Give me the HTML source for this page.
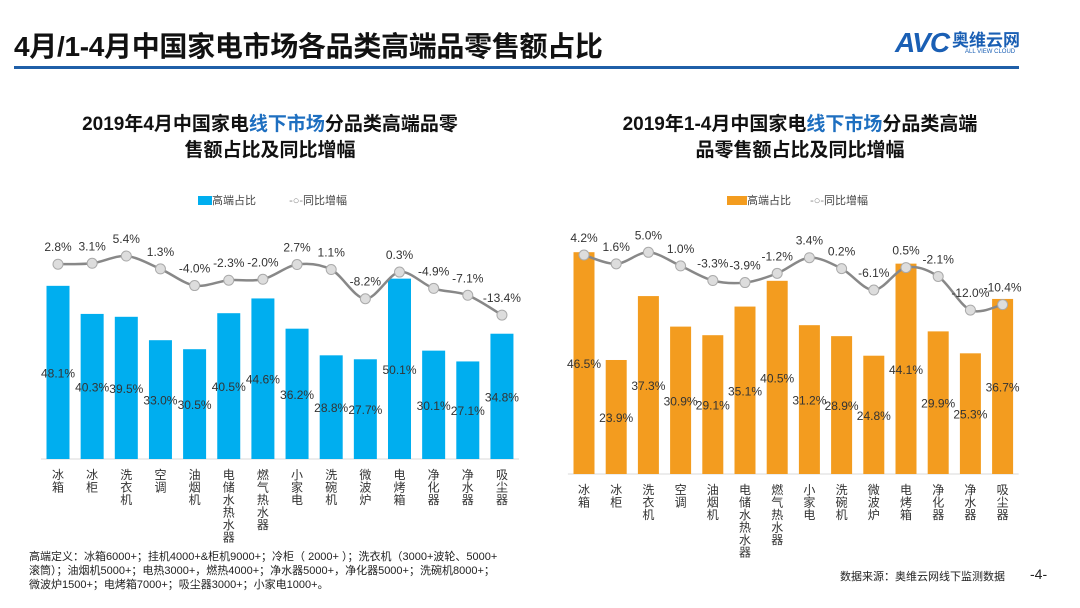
<!DOCTYPE html>
<html><head><meta charset="utf-8">
<style>
body{margin:0;width:1080px;height:608px;background:#fff;overflow:hidden;font-family:"Liberation Sans","Noto Sans CJK SC",sans-serif;position:relative}
.abs{position:absolute}
</style></head>
<body>
<div class="abs" style="left:14px;top:25px;font-size:28px;font-weight:bold;color:#111;letter-spacing:-0.3px">4月/1-4月中国家电市场各品类高端品零售额占比</div>
<div class="abs" style="left:14px;top:66px;width:1005px;height:3px;background:#1f5fa8"></div>
<div class="abs" style="left:895px;top:26px;color:#1a5fb4">
  <span style="font-size:28px;font-weight:bold;font-style:italic;letter-spacing:-1px">AVC</span><span style="font-size:17px;font-weight:bold;vertical-align:6px;margin-left:3px">奥维云网</span>
  <div style="font-size:6px;margin-left:70px;margin-top:-10px">ALL VIEW CLOUD</div>
</div>
<div class="abs" style="left:40px;top:112px;width:460px;text-align:center;font-size:19px;font-weight:bold;line-height:26px;color:#111">2019年4月中国家电<span style="color:#1e6fc0">线下市场</span>分品类高端品零<br>售额占比及同比增幅</div>
<div class="abs" style="left:575px;top:112px;width:450px;text-align:center;font-size:19px;font-weight:bold;line-height:26px;color:#111">2019年1-4月中国家电<span style="color:#1e6fc0">线下市场</span>分品类高端<br>品零售额占比及同比增幅</div>
<div class="abs" style="left:198px;top:192px;font-size:11px;color:#444">
  <span style="display:inline-block;width:14px;height:9px;background:#00aeef;vertical-align:-1px"></span>高端占比
  <span style="display:inline-block;margin-left:30px;color:#888">-○-</span>同比增幅</div>
<div class="abs" style="left:727px;top:192px;font-size:11px;color:#444">
  <span style="display:inline-block;width:20px;height:9px;background:#f39c1f;vertical-align:-1px"></span>高端占比
  <span style="display:inline-block;margin-left:16px;color:#888">-○-</span>同比增幅</div>
<svg class="abs" style="left:0;top:0" width="1080" height="608" id="svg"></svg>
<div class="abs" style="left:29px;top:550px;font-size:11px;line-height:14px;color:#222;width:510px">高端定义：冰箱6000+；挂机4000+&amp;柜机9000+；冷柜（ 2000+ ）；洗衣机（3000+波轮、5000+<br>滚筒）；油烟机5000+；电热3000+，燃热4000+；净水器5000+，净化器5000+；洗碗机8000+；<br>微波炉1500+；电烤箱7000+；吸尘器3000+；小家电1000+。</div>
<div class="abs" style="left:840px;top:568px;font-size:11px;color:#222">数据来源：奥维云网线下监测数据</div>
<div class="abs" style="left:1030px;top:566px;font-size:14px;color:#222">-4-</div>
<script>
const categories=["冰箱","冰柜","洗衣机","空调","油烟机","电储水热水器","燃气热水器","小家电","洗碗机","微波炉","电烤箱","净化器","净水器","吸尘器"];
const leftShare=[48.1,40.3,39.5,33.0,30.5,40.5,44.6,36.2,28.8,27.7,50.1,30.1,27.1,34.8];
const leftGrowth=[2.8,3.1,5.4,1.3,-4.0,-2.3,-2.0,2.7,1.1,-8.2,0.3,-4.9,-7.1,-13.4];
const rightShare=[46.5,23.9,37.3,30.9,29.1,35.1,40.5,31.2,28.9,24.8,44.1,29.9,25.3,36.7];
const rightGrowth=[4.2,1.6,5.0,1.0,-3.3,-3.9,-1.2,3.4,0.2,-6.1,0.5,-2.1,-12.0,-10.4];
const NS="http://www.w3.org/2000/svg";
const svg=document.getElementById('svg');
function mk(t,a){const e=document.createElementNS(NS,t);for(const k in a)e.setAttribute(k,a[k]);svg.appendChild(e);return e;}
function draw(cfg){
  const x=i=>cfg.x0+i*cfg.dx;
  const yb=v=>cfg.base-v*cfg.k;
  const yl=v=>cfg.l0-v*cfg.lk;
  const ax=mk('line',{x1:x(0)-cfg.dx/2,x2:x(13)+cfg.dx/2,y1:cfg.base,y2:cfg.base,stroke:'#d9d9d9'});
  
  
  cfg.share.forEach((v,i)=>{
    const r=mk('rect',{x:x(i)-cfg.bw/2,y:yb(v),width:cfg.bw,height:cfg.base-yb(v),fill:cfg.color});
    
    
    const t=mk('text',{x:x(i),y:(yb(v)+cfg.base)/2+5,'text-anchor':'middle','font-size':12,fill:'#333'});
    t.textContent=v.toFixed(1)+'%';
    
    
    [...categories[i]].forEach((c,j)=>{
      const ct=mk('text',{x:x(i),y:cfg.base+20+j*12.5,'text-anchor':'middle','font-size':12,fill:'#333'});
      ct.textContent=c;
    });
  });
  const pts=cfg.growth.map((v,i)=>[x(i),yl(v)]);
  let d='M'+pts[0][0]+','+pts[0][1];
  for(let i=0;i<pts.length-1;i++){
    const p0=pts[Math.max(i-1,0)],p1=pts[i],p2=pts[i+1],p3=pts[Math.min(i+2,pts.length-1)];
    const t=0.16;
    d+='C'+(p1[0]+(p2[0]-p0[0])*t)+','+(p1[1]+(p2[1]-p0[1])*t)+' '+(p2[0]-(p3[0]-p1[0])*t)+','+(p2[1]-(p3[1]-p1[1])*t)+' '+p2[0]+','+p2[1];
  }
  const p=mk('path',{d:d,fill:'none',stroke:'#888','stroke-width':2.5});
  
  
  cfg.growth.forEach((v,i)=>{
    const c=mk('circle',{cx:x(i),cy:yl(v),r:5,fill:'#ddd',stroke:'#aaa'});
    
    
    const t=mk('text',{x:x(i),y:yl(v)-13,'text-anchor':'middle','font-size':12,fill:'#333'});
    t.textContent=v.toFixed(1)+'%';
    
    
  });
}
draw({p:'left',x0:58,dx:34.15,bw:23,base:459,k:3.6,l0:273,lk:3.14,share:leftShare,growth:leftGrowth,color:'#00aeef'});
draw({p:'right',x0:584,dx:32.2,bw:21,base:474,k:4.77,l0:269.3,lk:3.4,share:rightShare,growth:rightGrowth,color:'#f39c1f'});
</script>
</body></html>
